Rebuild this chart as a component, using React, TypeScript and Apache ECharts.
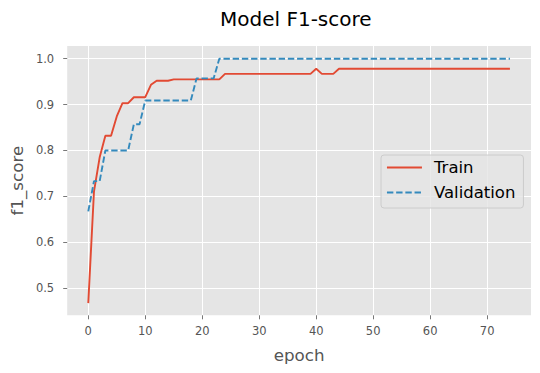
import { useEffect, useRef } from "react";
import * as echarts from "echarts";

const FONT = "DejaVu Sans";

const epochs = [
  0, 1, 2, 3, 4, 5, 6, 7, 8, 9, 10, 11, 12, 13, 14, 15, 16, 17, 18, 19, 20, 21, 22, 23, 24,
  25, 26, 27, 28, 29, 30, 31, 32, 33, 34, 35, 36, 37, 38, 39, 40, 41, 42, 43, 44, 45, 46, 47, 48, 49,
  50, 51, 52, 53, 54, 55, 56, 57, 58, 59, 60, 61, 62, 63, 64, 65, 66, 67, 68, 69, 70, 71, 72, 73, 74,
];

const trainF1 = [
  0.467, 0.71, 0.785, 0.832, 0.832, 0.874, 0.903, 0.903, 0.916, 0.916, 0.916, 0.943, 0.952, 0.952, 0.952,
  0.955, 0.955, 0.955, 0.955, 0.955, 0.955, 0.955, 0.955, 0.955,
  0.967, 0.967, 0.967, 0.967, 0.967, 0.967, 0.967, 0.967, 0.967, 0.967, 0.967, 0.967, 0.967, 0.967, 0.967, 0.967,
  0.978, 0.967, 0.967, 0.967,
  0.978, 0.978, 0.978, 0.978, 0.978, 0.978, 0.978, 0.978, 0.978, 0.978, 0.978, 0.978, 0.978, 0.978, 0.978, 0.978,
  0.978, 0.978, 0.978, 0.978, 0.978, 0.978, 0.978, 0.978, 0.978, 0.978, 0.978, 0.978, 0.978, 0.978, 0.978,
];

const valF1 = [
  0.667, 0.733, 0.733, 0.8, 0.8, 0.8, 0.8, 0.8, 0.857, 0.857,
  0.909, 0.909, 0.909, 0.909, 0.909, 0.909, 0.909, 0.909, 0.909,
  0.957, 0.957, 0.957, 0.957,
  1.0, 1.0, 1.0, 1.0, 1.0, 1.0, 1.0, 1.0, 1.0, 1.0, 1.0, 1.0, 1.0, 1.0, 1.0, 1.0, 1.0, 1.0, 1.0, 1.0,
  1.0, 1.0, 1.0, 1.0, 1.0, 1.0, 1.0, 1.0, 1.0, 1.0, 1.0, 1.0, 1.0, 1.0, 1.0, 1.0, 1.0, 1.0, 1.0, 1.0,
  1.0, 1.0, 1.0, 1.0, 1.0, 1.0, 1.0, 1.0, 1.0, 1.0, 1.0, 1.0,
];

const xTicks = [0, 10, 20, 30, 40, 50, 60, 70];
const yTicks = [0.5, 0.6, 0.7, 0.8, 0.9, 1.0];

export default function App() {
  const ref = useRef<HTMLDivElement>(null);

  useEffect(() => {
    const chart = echarts.init(ref.current!, null, { renderer: "svg" });
    chart.setOption({
      animation: false,
      textStyle: { fontFamily: FONT },
      title: {
        text: "Model F1-score",
        left: 220,
        top: 9,
        padding: 0,
        textStyle: { fontFamily: FONT, fontSize: 20, fontWeight: "normal", color: "#000000" },
      },
      legend: {
        orient: "vertical",
        left: 381,
        top: 155,
        itemWidth: 35,
        itemHeight: 14,
        itemGap: 8,
        padding: [4, 8, 7, 5],
        backgroundColor: "rgba(229,229,229,0.8)",
        borderColor: "#cccccc",
        borderWidth: 1,
        borderRadius: 3,
        itemStyle: { opacity: 0 },
        lineStyle: { width: 1.9 },
        data: ["Train", "Validation"],
        textStyle: { fontFamily: FONT, fontSize: 16.5, color: "#000000", padding: [0, 0, 0, 7] },
      },
      grid: {
        left: 67,
        right: 9,
        top: 46,
        bottom: 57.7,
        show: true,
        backgroundColor: "#E5E5E5",
        borderWidth: 0,
      },
      xAxis: {
        type: "value",
        min: -3.7,
        max: 77.7,
        minInterval: 10,
        maxInterval: 10,
        name: "epoch",
        nameLocation: "middle",
        nameGap: 31,
        nameTextStyle: { fontFamily: FONT, fontSize: 16.7, color: "#555555" },
        axisLine: { show: false, onZero: false },
        axisTick: { show: true, length: 4, customValues: xTicks, lineStyle: { color: "#555555", width: 0.8 } },
        axisLabel: {
          customValues: xTicks,
          color: "#555555",
          fontFamily: FONT,
          fontSize: 11.5,
          margin: 10,
          formatter: (v: number) => String(Math.round(v)),
        },
        splitLine: { show: true, lineStyle: { color: "#ffffff", width: 1 } },
      },
      yAxis: {
        type: "value",
        min: 0.4405,
        max: 1.0277,
        minInterval: 0.1,
        maxInterval: 0.1,
        name: "f1_score",
        nameLocation: "middle",
        nameGap: 40,
        nameRotate: 90,
        nameTextStyle: { fontFamily: FONT, fontSize: 16.7, color: "#555555" },
        axisLine: { show: false, onZero: false },
        axisTick: { show: true, length: 4, customValues: yTicks, lineStyle: { color: "#555555", width: 0.8 } },
        axisLabel: {
          customValues: yTicks,
          color: "#555555",
          fontFamily: FONT,
          fontSize: 11.5,
          margin: 13,
          formatter: (v: number) => v.toFixed(1),
        },
        splitLine: { show: true, lineStyle: { color: "#ffffff", width: 1 } },
      },
      series: [
        {
          name: "Train",
          type: "line",
          data: epochs.map((e, i) => [e, trainF1[i]]),
          symbol: "none",
          showSymbol: false,
          lineStyle: { color: "#E24A33", width: 1.9 },
          itemStyle: { color: "#E24A33" },
        },
        {
          name: "Validation",
          type: "line",
          data: epochs.map((e, i) => [e, valF1[i]]),
          symbol: "none",
          showSymbol: false,
          lineStyle: { color: "#348ABD", width: 1.9, type: [6.4, 2.8] },
          itemStyle: { color: "#348ABD" },
        },
      ],
    });
    return () => chart.dispose();
  }, []);

  return (
    <div
      ref={ref}
      style={{ position: "absolute", left: 0, top: 0, width: 540, height: 373 }}
    />
  );
}
